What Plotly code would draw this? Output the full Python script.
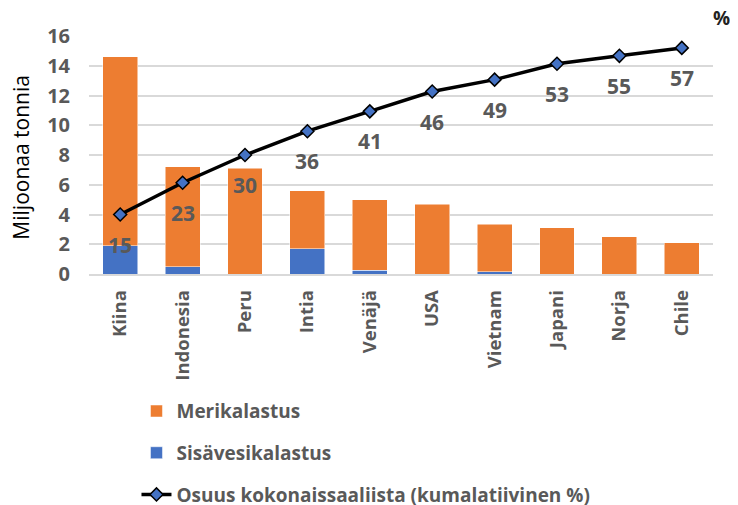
import plotly.graph_objects as go

countries = ["Kiina", "Indonesia", "Peru", "Intia", "Venäjä", "USA", "Vietnam", "Japani", "Norja", "Chile"]
total = [14.6, 7.2, 7.1, 5.6, 5.0, 4.7, 3.35, 3.1, 2.5, 2.1]
inland = [1.9, 0.5, 0.0, 1.7, 0.25, 0.0, 0.15, 0.0, 0.0, 0.0]
marine = [round(t - i, 2) for t, i in zip(total, inland)]
cumshare = [15, 23, 30, 36, 41, 46, 49, 53, 55, 57]

GREY = "#595959"
FONT = "Open Sans"

fig = go.Figure()
fig.add_trace(go.Bar(x=countries, y=inland, name="Sisävesikalastus", marker_color="#4472C4",
                     marker_line=dict(color="white", width=0.5), legendrank=2, legendgroup="b"))
fig.add_trace(go.Bar(x=countries, y=marine, name="Merikalastus", marker_color="#ED7D31",
                     marker_line=dict(color="white", width=0.5), legendrank=1, legendgroup="a"))
fig.add_trace(go.Scatter(x=countries, y=cumshare, yaxis="y2", mode="lines+markers",
                         name="Osuus kokonaissaaliista (kumalatiivinen %)",
                         line=dict(color="black", width=3.5),
                         marker=dict(symbol="diamond", size=10, color="#4472C4",
                                     line=dict(color="black", width=1.5)),
                         legendrank=3, legendgroup="c"))

for c, v in zip(countries, cumshare):
    fig.add_annotation(x=c, y=v, xref="x", yref="y2", text=str(v), showarrow=False,
                       xanchor="center", yanchor="middle",
                       yshift=-30, font=dict(family=FONT, size=21, color=GREY, weight="bold"))

fig.add_annotation(x=1.0144, y=1.0755, xref="paper", yref="paper", text="%", showarrow=False,
                   xanchor="center", yanchor="middle",
                   font=dict(family=FONT, size=19, color="#222", weight="bold"))
fig.add_annotation(x=-0.109, y=0.493, xref="paper", yref="paper", text="Miljoonaa tonnia",
                   textangle=-90, showarrow=False, xanchor="center", yanchor="middle",
                   font=dict(family=FONT, size=21, color="black"))

fig.update_layout(
    width=730, height=497,
    margin=dict(l=81, r=25, t=28, b=230.5, autoexpand=False),
    barmode="stack", bargap=0.44,
    plot_bgcolor="white", paper_bgcolor="white",
    font=dict(family=FONT, color=GREY),
    xaxis=dict(tickangle=-90, tickfont=dict(size=18.5, color=GREY, weight="bold"),
               range=[-0.5, len(countries) - 0.5], autorange=False,
               showline=True, linecolor="#D9D9D9", linewidth=1.5, ticklabelstandoff=7,
               automargin=False),
    yaxis=dict(range=[0, 16], dtick=2, gridcolor="#D9D9D9", gridwidth=1.5,
               tickfont=dict(size=20, color=GREY, weight="bold"), zeroline=False,
               ticklabelstandoff=18, automargin=False),
    yaxis2=dict(range=[0, 60], tickvals=[0, 10, 20, 30, 40, 50, 60], overlaying="y", side="right",
                showgrid=False, zeroline=False, ticklabelstandoff=20, automargin=False,
                tickfont=dict(size=20, color=GREY, weight="bold")),
    legend=dict(orientation="v", xref="container", yref="container", x=0.176, y=0.227,
                xanchor="left", yanchor="top", bgcolor="rgba(0,0,0,0)",
                font=dict(size=19, color=GREY, weight="bold"), tracegroupgap=14,
                itemwidth=30),
    showlegend=True,
)

fig.write_html("out.html")
